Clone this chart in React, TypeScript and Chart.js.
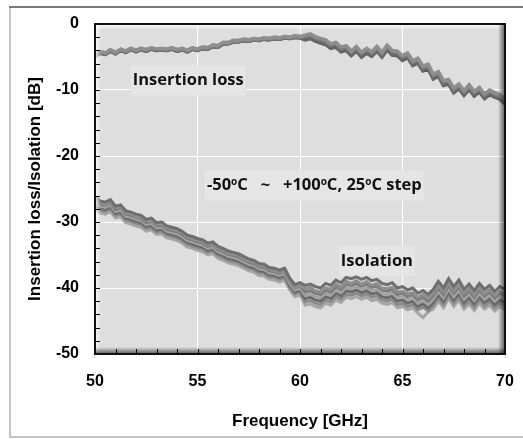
import React, { useEffect, useRef } from "react";
import { Chart, registerables } from "chart.js";
Chart.register(...registerables);

// Frequency grid [GHz]
const FREQ = [
  50, 50.25, 50.5, 50.75, 51, 51.25, 51.5, 51.75, 52, 52.25,
  52.5, 52.75, 53, 53.25, 53.5, 53.75, 54, 54.25, 54.5, 54.75,
  55, 55.25, 55.5, 55.75, 56, 56.25, 56.5, 56.75, 57, 57.25,
  57.5, 57.75, 58, 58.25, 58.5, 58.75, 59, 59.25, 59.5, 59.75,
  60, 60.25, 60.5, 60.75, 61, 61.25, 61.5, 61.75, 62, 62.25,
  62.5, 62.75, 63, 63.25, 63.5, 63.75, 64, 64.25, 64.5, 64.75,
  65, 65.25, 65.5, 65.75, 66, 66.25, 66.5, 66.75, 67, 67.25,
  67.5, 67.75, 68, 68.25, 68.5, 68.75, 69, 69.25, 69.5, 69.75,
  70,
];

const TEMPS = ["-50", "-25", "0", "25", "50", "75", "100"];

// Insertion loss [dB]
const IL_M50 = [
  -4.7, -4.2, -4.4, -3.9, -4.3, -3.8, -4.1, -3.7, -4.0, -3.7,
  -3.9, -3.6, -3.8, -3.7, -3.8, -3.6, -3.9, -3.7, -4.0, -3.6,
  -3.8, -3.5, -3.6, -3.2, -3.3, -2.8, -2.8, -2.5, -2.5, -2.3,
  -2.4, -2.2, -2.3, -2.1, -2.2, -2.0, -2.1, -1.9, -2.0, -1.8,
  -1.9, -1.7, -1.5, -1.9, -2.2, -2.4, -3.0, -2.8, -3.5, -3.3,
  -4.1, -3.4, -4.3, -3.7, -4.2, -3.4, -4.3, -3.2, -4.0, -4.1,
  -4.8, -4.4, -5.6, -5.2, -6.4, -6.1, -7.6, -7.2, -8.6, -8.4,
  -9.7, -9.1, -10.1, -9.2, -10.2, -9.6, -10.6, -10.0, -10.4, -10.7,
  -11.4,
];
const IL_M25 = [
  -4.8, -4.3, -4.5, -4.0, -4.4, -3.9, -4.2, -3.8, -4.1, -3.8,
  -4.0, -3.7, -3.9, -3.8, -3.9, -3.7, -4.0, -3.8, -4.1, -3.7,
  -3.9, -3.6, -3.7, -3.3, -3.4, -2.9, -2.9, -2.6, -2.6, -2.4,
  -2.5, -2.3, -2.4, -2.2, -2.3, -2.1, -2.2, -2.0, -2.1, -1.9,
  -2.0, -1.9, -1.7, -2.1, -2.4, -2.6, -3.2, -3.0, -3.7, -3.5,
  -4.3, -3.6, -4.5, -3.9, -4.4, -3.6, -4.5, -3.4, -4.2, -4.3,
  -5.0, -4.6, -5.8, -5.4, -6.6, -6.3, -7.8, -7.4, -8.8, -8.6,
  -9.9, -9.3, -10.3, -9.4, -10.4, -9.8, -10.8, -10.2, -10.6, -10.9,
  -11.6,
];
const IL_0 = [
  -4.9, -4.4, -4.6, -4.1, -4.5, -4.0, -4.3, -3.9, -4.2, -3.9,
  -4.1, -3.8, -4.0, -3.9, -4.0, -3.8, -4.1, -3.9, -4.2, -3.8,
  -4.0, -3.7, -3.8, -3.4, -3.5, -3.0, -3.0, -2.7, -2.7, -2.5,
  -2.6, -2.4, -2.5, -2.3, -2.4, -2.2, -2.3, -2.1, -2.2, -2.0,
  -2.1, -2.1, -1.9, -2.3, -2.6, -2.8, -3.4, -3.2, -3.9, -3.7,
  -4.5, -3.8, -4.7, -4.1, -4.6, -3.8, -4.7, -3.6, -4.4, -4.5,
  -5.2, -4.8, -6.0, -5.6, -6.8, -6.5, -8.0, -7.6, -9.0, -8.8,
  -10.1, -9.5, -10.5, -9.6, -10.6, -10.0, -11.0, -10.4, -10.8, -11.1,
  -11.8,
];
const IL_25 = [
  -4.7, -4.2, -4.4, -3.9, -4.3, -3.8, -4.1, -3.7, -4.0, -3.7,
  -3.9, -3.6, -3.8, -3.7, -3.8, -3.6, -3.9, -3.7, -4.0, -3.6,
  -3.8, -3.5, -3.6, -3.2, -3.3, -2.8, -2.8, -2.5, -2.5, -2.3,
  -2.4, -2.2, -2.3, -2.1, -2.2, -2.0, -2.1, -1.9, -2.0, -1.8,
  -1.9, -2.0, -1.8, -2.2, -2.5, -2.7, -3.3, -3.1, -3.8, -3.6,
  -4.4, -3.7, -4.6, -4.0, -4.5, -3.7, -4.6, -3.5, -4.3, -4.4,
  -5.1, -4.7, -5.9, -5.5, -6.7, -6.4, -7.9, -7.5, -8.9, -8.7,
  -10.0, -9.4, -10.4, -9.5, -10.5, -9.9, -10.9, -10.3, -10.7, -11.0,
  -11.7,
];
const IL_50 = [
  -4.8, -4.3, -4.5, -4.0, -4.4, -3.9, -4.2, -3.8, -4.1, -3.8,
  -4.0, -3.7, -3.9, -3.8, -3.9, -3.7, -4.0, -3.8, -4.1, -3.7,
  -3.9, -3.6, -3.7, -3.3, -3.4, -2.9, -2.9, -2.6, -2.6, -2.4,
  -2.5, -2.3, -2.4, -2.2, -2.3, -2.1, -2.2, -2.0, -2.1, -1.9,
  -2.0, -2.2, -2.0, -2.4, -2.7, -2.9, -3.5, -3.3, -4.0, -3.8,
  -4.6, -3.9, -4.8, -4.2, -4.7, -3.9, -4.8, -3.7, -4.5, -4.6,
  -5.3, -4.9, -6.1, -5.7, -6.9, -6.6, -8.1, -7.7, -9.1, -8.9,
  -10.2, -9.6, -10.6, -9.7, -10.7, -10.1, -11.1, -10.5, -10.9, -11.2,
  -11.9,
];
const IL_75 = [
  -4.9, -4.4, -4.6, -4.1, -4.5, -4.0, -4.3, -3.9, -4.2, -3.9,
  -4.1, -3.8, -4.0, -3.9, -4.0, -3.8, -4.1, -3.9, -4.2, -3.8,
  -4.0, -3.7, -3.8, -3.4, -3.5, -3.0, -3.0, -2.7, -2.7, -2.5,
  -2.6, -2.4, -2.5, -2.3, -2.4, -2.2, -2.3, -2.1, -2.2, -2.0,
  -2.1, -2.3, -2.1, -2.5, -2.8, -3.0, -3.6, -3.4, -4.1, -3.9,
  -4.7, -4.0, -4.9, -4.3, -4.8, -4.0, -4.9, -3.8, -4.6, -4.7,
  -5.4, -5.0, -6.2, -5.8, -7.0, -6.7, -8.2, -7.8, -9.2, -9.0,
  -10.3, -9.7, -10.7, -9.8, -10.8, -10.2, -11.2, -10.6, -11.0, -11.3,
  -12.0,
];
const IL_100 = [
  -4.9, -4.4, -4.6, -4.1, -4.5, -4.0, -4.3, -3.9, -4.2, -3.9,
  -4.1, -3.8, -4.0, -3.9, -4.0, -3.8, -4.1, -3.9, -4.2, -3.8,
  -4.0, -3.7, -3.8, -3.4, -3.5, -3.0, -3.0, -2.7, -2.7, -2.5,
  -2.6, -2.4, -2.5, -2.3, -2.4, -2.2, -2.3, -2.1, -2.2, -2.0,
  -2.1, -2.4, -2.2, -2.6, -2.9, -3.1, -3.7, -3.5, -4.2, -4.0,
  -4.8, -4.1, -5.0, -4.4, -4.9, -4.1, -5.0, -3.9, -4.7, -4.8,
  -5.5, -5.1, -6.3, -5.9, -7.1, -6.8, -8.3, -7.9, -9.3, -9.1,
  -10.4, -9.8, -10.8, -9.9, -10.9, -10.3, -11.3, -10.7, -11.1, -11.4,
  -12.1,
];

// Isolation [dB]
const ISO_M50 = [
  -26.2, -26.8, -27.0, -26.6, -27.6, -27.4, -28.3, -28.5, -28.8, -29.0,
  -29.6, -29.4, -30.1, -30.0, -30.6, -30.8, -31.0, -31.4, -32.0, -32.2,
  -32.5, -32.7, -33.2, -33.0, -33.7, -34.0, -34.4, -34.6, -34.8, -35.2,
  -35.6, -35.8, -36.3, -36.4, -36.9, -37.0, -37.3, -37.0, -38.5, -39.5,
  -39.2, -39.6, -39.4, -39.8, -40.0, -39.3, -39.6, -38.8, -39.2, -38.4,
  -38.6, -38.3, -38.7, -38.4, -38.9, -38.7, -39.3, -39.5, -39.2, -40.0,
  -39.8, -40.3, -40.0, -40.8, -40.4, -41.0, -40.2, -39.0, -40.0, -38.6,
  -39.8, -38.8, -40.2, -39.4, -40.4, -39.3, -40.2, -39.6, -40.5, -39.8,
  -40.2,
];
const ISO_M25 = [
  -26.5, -27.0, -27.4, -27.0, -27.8, -27.8, -28.6, -28.7, -29.2, -29.3,
  -29.8, -29.8, -30.4, -30.3, -30.9, -31.1, -31.3, -31.7, -32.3, -32.5,
  -32.8, -33.0, -33.5, -33.4, -34.0, -34.3, -34.7, -34.9, -35.1, -35.5,
  -35.9, -36.1, -36.6, -36.7, -37.2, -37.3, -37.6, -37.4, -38.9, -39.9,
  -39.6, -40.1, -39.9, -40.4, -40.6, -40.0, -40.2, -39.4, -39.9, -39.0,
  -39.3, -38.9, -39.4, -39.0, -39.6, -39.3, -40.0, -40.1, -39.9, -40.6,
  -40.5, -40.9, -40.7, -41.4, -41.0, -41.6, -40.8, -39.7, -40.6, -39.3,
  -40.4, -39.5, -40.8, -40.0, -41.0, -39.9, -40.9, -40.2, -41.1, -40.5,
  -40.8,
];
const ISO_0 = [
  -26.7, -27.3, -27.5, -27.1, -28.1, -27.9, -28.8, -29.0, -29.3, -29.5,
  -30.1, -29.9, -30.6, -30.5, -31.1, -31.3, -31.5, -31.9, -32.5, -32.7,
  -33.0, -33.2, -33.7, -33.5, -34.2, -34.5, -34.9, -35.1, -35.3, -35.7,
  -36.1, -36.3, -36.8, -36.9, -37.4, -37.5, -37.8, -37.5, -39.0, -40.0,
  -39.7, -40.6, -40.4, -40.8, -41.0, -40.3, -40.6, -39.8, -40.2, -39.4,
  -39.6, -39.3, -39.7, -39.4, -39.9, -39.7, -40.3, -40.5, -40.2, -41.0,
  -40.8, -41.3, -41.0, -41.8, -41.4, -42.0, -41.2, -40.0, -41.0, -39.6,
  -40.8, -39.8, -41.2, -40.4, -41.4, -40.3, -41.2, -40.6, -41.5, -40.8,
  -41.2,
];
const ISO_25 = [
  -27.0, -27.6, -27.8, -27.4, -28.4, -28.2, -29.1, -29.3, -29.6, -29.8,
  -30.4, -30.2, -30.9, -30.8, -31.4, -31.6, -31.8, -32.2, -32.8, -33.0,
  -33.3, -33.5, -34.0, -33.8, -34.5, -34.8, -35.2, -35.4, -35.6, -36.0,
  -36.4, -36.6, -37.1, -37.2, -37.7, -37.8, -38.1, -37.8, -39.3, -40.3,
  -40.0, -41.1, -40.9, -41.3, -41.5, -40.8, -41.1, -40.3, -40.7, -39.9,
  -40.1, -39.8, -40.2, -39.9, -40.4, -40.2, -40.8, -41.0, -40.7, -41.5,
  -41.3, -41.8, -41.5, -42.3, -41.9, -42.5, -41.7, -40.5, -41.5, -40.1,
  -41.3, -40.3, -41.7, -40.9, -41.9, -40.8, -41.7, -41.1, -42.0, -41.3,
  -41.7,
];
const ISO_50 = [
  -27.3, -27.9, -28.1, -27.7, -28.7, -28.5, -29.4, -29.6, -29.9, -30.1,
  -30.7, -30.5, -31.2, -31.1, -31.7, -31.9, -32.1, -32.5, -33.1, -33.3,
  -33.6, -33.8, -34.3, -34.1, -34.8, -35.1, -35.5, -35.7, -35.9, -36.3,
  -36.7, -36.9, -37.4, -37.5, -38.0, -38.1, -38.4, -38.1, -39.6, -40.6,
  -40.3, -41.6, -41.4, -41.8, -42.0, -41.3, -41.6, -40.8, -41.2, -40.4,
  -40.6, -40.3, -40.7, -40.4, -40.9, -40.7, -41.3, -41.5, -41.2, -42.0,
  -41.8, -42.3, -42.0, -42.8, -42.4, -43.0, -42.2, -41.0, -42.0, -40.6,
  -41.8, -40.8, -42.2, -41.4, -42.4, -41.3, -42.2, -41.6, -42.5, -41.8,
  -42.2,
];
const ISO_75 = [
  -27.6, -28.2, -28.4, -28.0, -29.0, -28.8, -29.7, -29.9, -30.2, -30.4,
  -31.0, -30.8, -31.5, -31.4, -32.0, -32.2, -32.4, -32.8, -33.4, -33.6,
  -33.9, -34.1, -34.6, -34.4, -35.1, -35.4, -35.8, -36.0, -36.2, -36.6,
  -37.0, -37.2, -37.7, -37.8, -38.3, -38.4, -38.7, -38.4, -39.9, -40.9,
  -40.6, -42.1, -41.9, -42.3, -42.5, -41.8, -42.1, -41.3, -41.7, -40.9,
  -41.1, -40.8, -41.2, -40.9, -41.4, -41.2, -41.8, -42.0, -41.7, -42.5,
  -42.3, -42.8, -42.5, -43.3, -42.9, -43.5, -42.7, -41.5, -42.5, -41.1,
  -42.3, -41.3, -42.7, -41.9, -42.9, -41.8, -42.7, -42.1, -43.0, -42.3,
  -42.7,
];
const ISO_100 = [
  -28.0, -28.6, -28.8, -28.4, -29.4, -29.2, -30.1, -30.3, -30.6, -30.8,
  -31.4, -31.2, -31.9, -31.8, -32.4, -32.6, -32.8, -33.2, -33.8, -34.0,
  -34.3, -34.5, -35.0, -34.8, -35.5, -35.8, -36.2, -36.4, -36.6, -37.0,
  -37.4, -37.6, -38.1, -38.2, -38.7, -38.8, -39.1, -38.8, -40.3, -41.3,
  -41.0, -42.6, -42.4, -42.8, -43.0, -42.3, -42.6, -41.8, -42.2, -41.4,
  -41.6, -41.3, -41.7, -41.4, -41.9, -41.7, -42.3, -42.5, -42.2, -43.0,
  -42.8, -43.3, -43.0, -43.8, -44.5, -43.6, -43.2, -42.0, -43.0, -41.6,
  -42.8, -41.8, -43.2, -42.4, -43.4, -42.3, -43.2, -42.6, -43.5, -42.8,
  -43.2,
];

const IL_SERIES = [IL_M50, IL_M25, IL_0, IL_25, IL_50, IL_75, IL_100];
const ISO_SERIES = [ISO_M50, ISO_M25, ISO_0, ISO_25, ISO_50, ISO_75, ISO_100];

const IL_COLORS = ["#8e8e8e", "#7c7c7c", "#6a6a6a", "#929292", "#5e5e5e", "#747474", "#555555"];
const ISO_COLORS = ["#6e6e6e", "#8e8e8e", "#7c7c7c", "#a2a2a2", "#6a6a6a", "#8a8a8a", "#a6a6a6"];

const X_MIN = 50, X_MAX = 70, X_STEP = 5;
const Y_MIN = -50, Y_MAX = 0, Y_STEP = 10;

const X_TITLE = "Frequency [GHz]";
const Y_TITLE = "Insertion loss/Isolation [dB]";

// Annotation labels (anchored in data coordinates)
const LABEL_IL = { text: "Insertion loss", x: 54.55, y: -8.6 };
const LABEL_ISO = { text: "Isolation", x: 63.75, y: -35.9 };
const LABEL_TEMP = {
  parts: [
    { t: "-50", sup: false },
    { t: "o", sup: true },
    { t: "C   ~   +100", sup: false },
    { t: "o", sup: true },
    { t: "C, 25", sup: false },
    { t: "o", sup: true },
    { t: "C step", sup: false },
  ],
  x: 60.7,
  y: -24.5,
};

const AXIS_FONT = '"Liberation Sans", Arial, Helvetica, sans-serif';
const LABEL_FONT = '"Open Sans", "Noto Sans", sans-serif';

const decorPlugin = {
  id: "decor",
  beforeDraw(chart: any) {
    const { ctx, width, height, chartArea: a } = chart;
    ctx.save();
    ctx.fillStyle = "#ffffff";
    ctx.fillRect(0, 0, width, height);
    // outer frame
    ctx.fillStyle = "#c4c4c4";
    ctx.fillRect(9, 7, 2, 431);
    ctx.fillRect(9, 436, width - 9, 2);
    ctx.fillStyle = "#7a7a7a";
    ctx.fillRect(9, 6, width - 9, 2);
    // plot background
    ctx.fillStyle = "#dedede";
    ctx.fillRect(a.left, a.top, a.right - a.left, a.bottom - a.top);
    ctx.restore();
  },
  beforeDatasetsDraw(chart: any) {
    const { ctx, scales } = chart;
    const xs = scales.x, ys = scales.y;
    ctx.save();
    const drawBox = (cx: number, cy: number, w: number) => {
      ctx.fillStyle = "#e5e5e5";
      ctx.fillRect(cx - w / 2 - 2, cy - 15, w + 4, 30);
    };
    const mainF = `bold 16.5px ${LABEL_FONT}`;
    const supF = `bold 10px ${LABEL_FONT}`;
    ctx.font = mainF;
    ctx.textBaseline = "middle";
    ctx.textAlign = "left";
    // insertion loss
    {
      const cx = xs.getPixelForValue(LABEL_IL.x), cy = ys.getPixelForValue(LABEL_IL.y);
      const w = ctx.measureText(LABEL_IL.text).width;
      drawBox(cx, cy, w);
      ctx.fillStyle = "#111";
      ctx.fillText(LABEL_IL.text, cx - w / 2, cy);
    }
    // isolation
    {
      const cx = xs.getPixelForValue(LABEL_ISO.x), cy = ys.getPixelForValue(LABEL_ISO.y);
      const w = ctx.measureText(LABEL_ISO.text).width;
      drawBox(cx, cy, w);
      ctx.fillStyle = "#111";
      ctx.fillText(LABEL_ISO.text, cx - w / 2, cy);
    }
    // temperature label with superscripts
    {
      const cx = xs.getPixelForValue(LABEL_TEMP.x), cy = ys.getPixelForValue(LABEL_TEMP.y);
      let total = 0;
      const widths = LABEL_TEMP.parts.map((p) => {
        ctx.font = p.sup ? supF : mainF;
        const w = ctx.measureText(p.t).width;
        total += w;
        return w;
      });
      drawBox(cx, cy, total);
      let x = cx - total / 2;
      ctx.fillStyle = "#111";
      LABEL_TEMP.parts.forEach((p, i) => {
        ctx.font = p.sup ? supF : mainF;
        ctx.fillText(p.t, x, p.sup ? cy - 4 : cy);
        x += widths[i];
      });
    }
    ctx.restore();
  },
  afterDatasetsDraw(chart: any) {
    const { ctx, chartArea: a, scales } = chart;
    const xs = scales.x, ys = scales.y;
    ctx.save();
    const L = a.left, T = a.top, R = a.right, B = a.bottom;
    // bevel highlight top/left
    let g = ctx.createLinearGradient(0, T, 0, T + 6);
    g.addColorStop(0, "rgba(255,255,255,0.85)");
    g.addColorStop(1, "rgba(255,255,255,0)");
    ctx.fillStyle = g;
    ctx.fillRect(L, T, R - L, 6);
    g = ctx.createLinearGradient(L, 0, L + 6, 0);
    g.addColorStop(0, "rgba(255,255,255,0.85)");
    g.addColorStop(1, "rgba(255,255,255,0)");
    ctx.fillStyle = g;
    ctx.fillRect(L, T, 6, B - T);
    // shadow right/bottom
    g = ctx.createLinearGradient(R - 7, 0, R, 0);
    g.addColorStop(0, "rgba(0,0,0,0)");
    g.addColorStop(1, "rgba(0,0,0,0.6)");
    ctx.fillStyle = g;
    ctx.fillRect(R - 7, T, 7, B - T);
    g = ctx.createLinearGradient(0, B - 7, 0, B);
    g.addColorStop(0, "rgba(0,0,0,0)");
    g.addColorStop(1, "rgba(0,0,0,0.6)");
    ctx.fillStyle = g;
    ctx.fillRect(L, B - 7, R - L, 7);
    // minor ticks
    ctx.strokeStyle = "#000";
    ctx.lineWidth = 1;
    ctx.beginPath();
    for (let v = Y_MIN + 2; v < Y_MAX; v += 2) {
      const y = Math.round(ys.getPixelForValue(v)) + 0.5;
      ctx.moveTo(L, y);
      ctx.lineTo(L + 5, y);
    }
    for (let f = X_MIN + 1; f < X_MAX; f += 1) {
      const x = Math.round(xs.getPixelForValue(f)) + 0.5;
      ctx.moveTo(x, B);
      ctx.lineTo(x, B - 5);
    }
    ctx.stroke();
    // border
    ctx.lineWidth = 2;
    ctx.strokeStyle = "#111";
    ctx.strokeRect(L, T, R - L, B - T);
    ctx.restore();
  },
};

export default function App() {
  const ref = useRef<HTMLCanvasElement | null>(null);
  useEffect(() => {
    if (!ref.current) return;
    const datasets: any[] = [];
    ISO_SERIES.forEach((s, k) => {
      datasets.push({
        label: `Isolation ${TEMPS[k]}°C`,
        data: FREQ.map((f, i) => ({ x: f, y: s[i] })),
        borderColor: ISO_COLORS[k],
        borderWidth: 3,
        pointRadius: 0,
        fill: false,
        tension: 0,
      });
    });
    IL_SERIES.forEach((s, k) => {
      datasets.push({
        label: `Insertion loss ${TEMPS[k]}°C`,
        data: FREQ.map((f, i) => ({ x: f, y: s[i] })),
        borderColor: IL_COLORS[k],
        borderWidth: 3.5,
        pointRadius: 0,
        fill: false,
        tension: 0,
      });
    });
    const tickFont = { family: AXIS_FONT, weight: "bold" as const, size: 16 };
    const titleFont = { family: AXIS_FONT, weight: "bold" as const, size: 17 };
    const chart = new Chart(ref.current, {
      type: "line",
      data: { datasets },
      plugins: [decorPlugin],
      options: {
        responsive: false,
        animation: false,
        layout: { padding: { left: 0, top: 24, right: 18, bottom: 0 } },
        plugins: { legend: { display: false }, tooltip: { enabled: false } },
        scales: {
          x: {
            type: "linear",
            min: X_MIN,
            max: X_MAX,
            afterFit: (s: any) => { s.height = 85; s.paddingLeft = 0; s.paddingRight = 0; },
            ticks: { stepSize: X_STEP, padding: 18, color: "#000", font: tickFont, maxRotation: 0, autoSkip: false },
            grid: {
              drawTicks: false,
              lineWidth: 1,
              color: (c: any) => (c.tick && c.tick.value > X_MIN && c.tick.value < X_MAX ? "#ffffff" : "rgba(0,0,0,0)"),
            },
            border: { display: false },
            title: { display: true, text: X_TITLE, color: "#000", font: titleFont, padding: { top: 0, bottom: 7 } },
          },
          y: {
            type: "linear",
            min: Y_MIN,
            max: Y_MAX,
            afterFit: (s: any) => { s.width = 95; s.paddingTop = 0; s.paddingBottom = 0; },
            ticks: { stepSize: Y_STEP, padding: 16, color: "#000", font: tickFont },
            grid: {
              drawTicks: false,
              lineWidth: 1,
              color: (c: any) => (c.tick && c.tick.value > Y_MIN && c.tick.value < Y_MAX ? "#ffffff" : "rgba(0,0,0,0)"),
            },
            border: { display: false },
            title: { display: true, text: Y_TITLE, color: "#000", font: titleFont, padding: { top: 25, bottom: 0 } },
          },
        },
      } as any,
    });
    return () => chart.destroy();
  }, []);
  return (
    <div style={{ position: "absolute", left: 0, top: 0, width: 523, height: 439, background: "#fff" }}>
      <canvas ref={ref} width={523} height={439} style={{ display: "block" }} />
    </div>
  );
}
